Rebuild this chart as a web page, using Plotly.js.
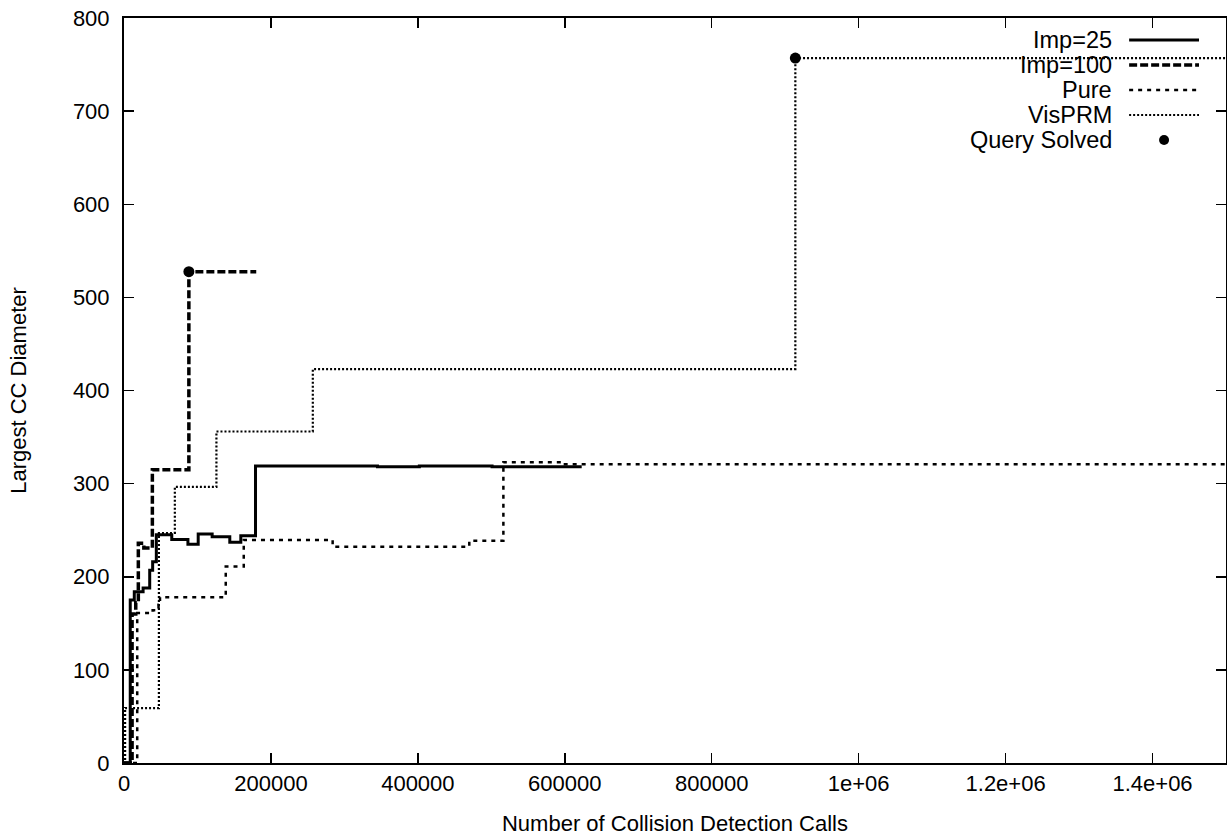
<!DOCTYPE html>
<html>
<head>
<meta charset="utf-8">
<script src="https://cdn.plot.ly/plotly-3.0.1.min.js"></script>
<style>html,body{margin:0;padding:0;background:#fff;}#chart{width:1227px;height:837px;}</style>
</head>
<body>
<div id="chart"></div>
<script>
// ---- data ----
const imp25X  = [0, 8500, 14000, 26000, 35000, 39000, 44000, 65000, 87000, 101000, 120000, 144000, 159000, 179000, 345000, 402000, 501000, 623000];
const imp25Y  = [0, 175, 184, 188, 207, 216, 245, 240, 235, 246, 243, 237, 244, 319, 318, 319, 318, 318];

const imp100X = [0, 11000, 16000, 19500, 27000, 38600, 88300, 180000];
const imp100Y = [0, 160, 172, 236, 231, 315, 527.6, 527.6];

const pureX   = [0, 18000, 39000, 47000, 49000, 138500, 163000, 284000, 470000, 516400, 596500, 1500000];
const pureY   = [0, 161, 164, 170, 178, 211, 239.5, 232.3, 238.7, 323, 320.7, 320.7];

const visX    = [0, 1500, 47500, 69200, 125800, 257000, 913800, 1500000];
const visY    = [0, 59, 247, 296.5, 356, 423, 757, 757];

const solvedX = [88300, 913800];
const solvedY = [527.6, 757];

const seriesNames = ['Imp=25', 'Imp=100', 'Pure', 'VisPRM', 'Query Solved'];

const xTickVals = [0, 200000, 400000, 600000, 800000, 1000000, 1200000, 1400000];
const xTickText = ['0', '200000', '400000', '600000', '800000', '1e+06', '1.2e+06', '1.4e+06'];
const yTickVals = [0, 100, 200, 300, 400, 500, 600, 700, 800];

// ---- styles ----
const styles = [
  {width: 3, dash: 'solid'},
  {width: 3.5, dash: '8px,3px'},
  {width: 2.5, dash: '4px,5px'},
  {width: 2.2, dash: '2px,2px'}
];

const lineData = [[imp25X, imp25Y], [imp100X, imp100Y], [pureX, pureY], [visX, visY]];
const traces = lineData.map((d, i) => ({
  type: 'scatter', mode: 'lines', name: seriesNames[i],
  x: d[0], y: d[1],
  line: {color: '#000', width: styles[i].width, dash: styles[i].dash, shape: 'hv'},
  hoverinfo: 'skip'
}));
traces.push({
  type: 'scatter', mode: 'markers', name: seriesNames[4],
  x: solvedX, y: solvedY,
  marker: {color: '#000', size: 11, symbol: 'circle'},
  hoverinfo: 'skip'
});

// ---- custom gnuplot-style legend (text left, sample right) ----
const legTextX = 0.8985, legL0 = 0.9121, legL1 = 0.9755, legMarkX = 0.9438;
const legRows = [0.9705, 0.9369, 0.9034, 0.8698, 0.8362];
const annotations = seriesNames.map((n, i) => ({
  xref: 'paper', yref: 'paper', x: legTextX, y: legRows[i],
  xanchor: 'right', yanchor: 'middle', showarrow: false,
  text: n, font: {size: 23.5, color: '#000', family: 'Liberation Sans, Arial, sans-serif'}
}));
const shapes = styles.map((s, i) => ({
  type: 'line', xref: 'paper', yref: 'paper',
  x0: legL0, x1: legL1, y0: legRows[i], y1: legRows[i],
  line: {color: '#000', width: s.width, dash: s.dash}
}));
shapes.push({
  type: 'circle', xref: 'paper', yref: 'paper',
  xsizemode: 'pixel', ysizemode: 'pixel',
  xanchor: legMarkX, yanchor: legRows[4],
  x0: -5, x1: 5, y0: -5, y1: 5,
  fillcolor: '#000', line: {color: '#000', width: 0}
});

const axisCommon = {
  ticks: 'inside', ticklen: 10, tickwidth: 1.5, tickcolor: '#000',
  showline: true, linewidth: 2, linecolor: '#000', mirror: 'ticks',
  showgrid: false, zeroline: false,
  tickfont: {size: 22, color: '#000'}
};

const layout = {
  width: 1227, height: 837,
  margin: {l: 124, r: 1, t: 18, b: 74},
  paper_bgcolor: '#fff', plot_bgcolor: '#fff',
  showlegend: false,
  font: {family: 'Liberation Sans, Arial, sans-serif', color: '#000', size: 22},
  xaxis: Object.assign({}, axisCommon, {
    range: [0, 1500000], tickmode: 'array', tickvals: xTickVals, ticktext: xTickText,
    ticklabelstandoff: 0,
    title: {text: 'Number of Collision Detection Calls', font: {size: 22}, standoff: 20}
  }),
  yaxis: Object.assign({}, axisCommon, {
    range: [0, 800], tickmode: 'array', tickvals: yTickVals,
    ticklabelstandoff: 8,
    title: {text: 'Largest CC Diameter', font: {size: 22}, standoff: 40}
  }),
  annotations: annotations,
  shapes: shapes
};

Plotly.newPlot('chart', traces, layout, {staticPlot: true, displayModeBar: false});
</script>
</body>
</html>
